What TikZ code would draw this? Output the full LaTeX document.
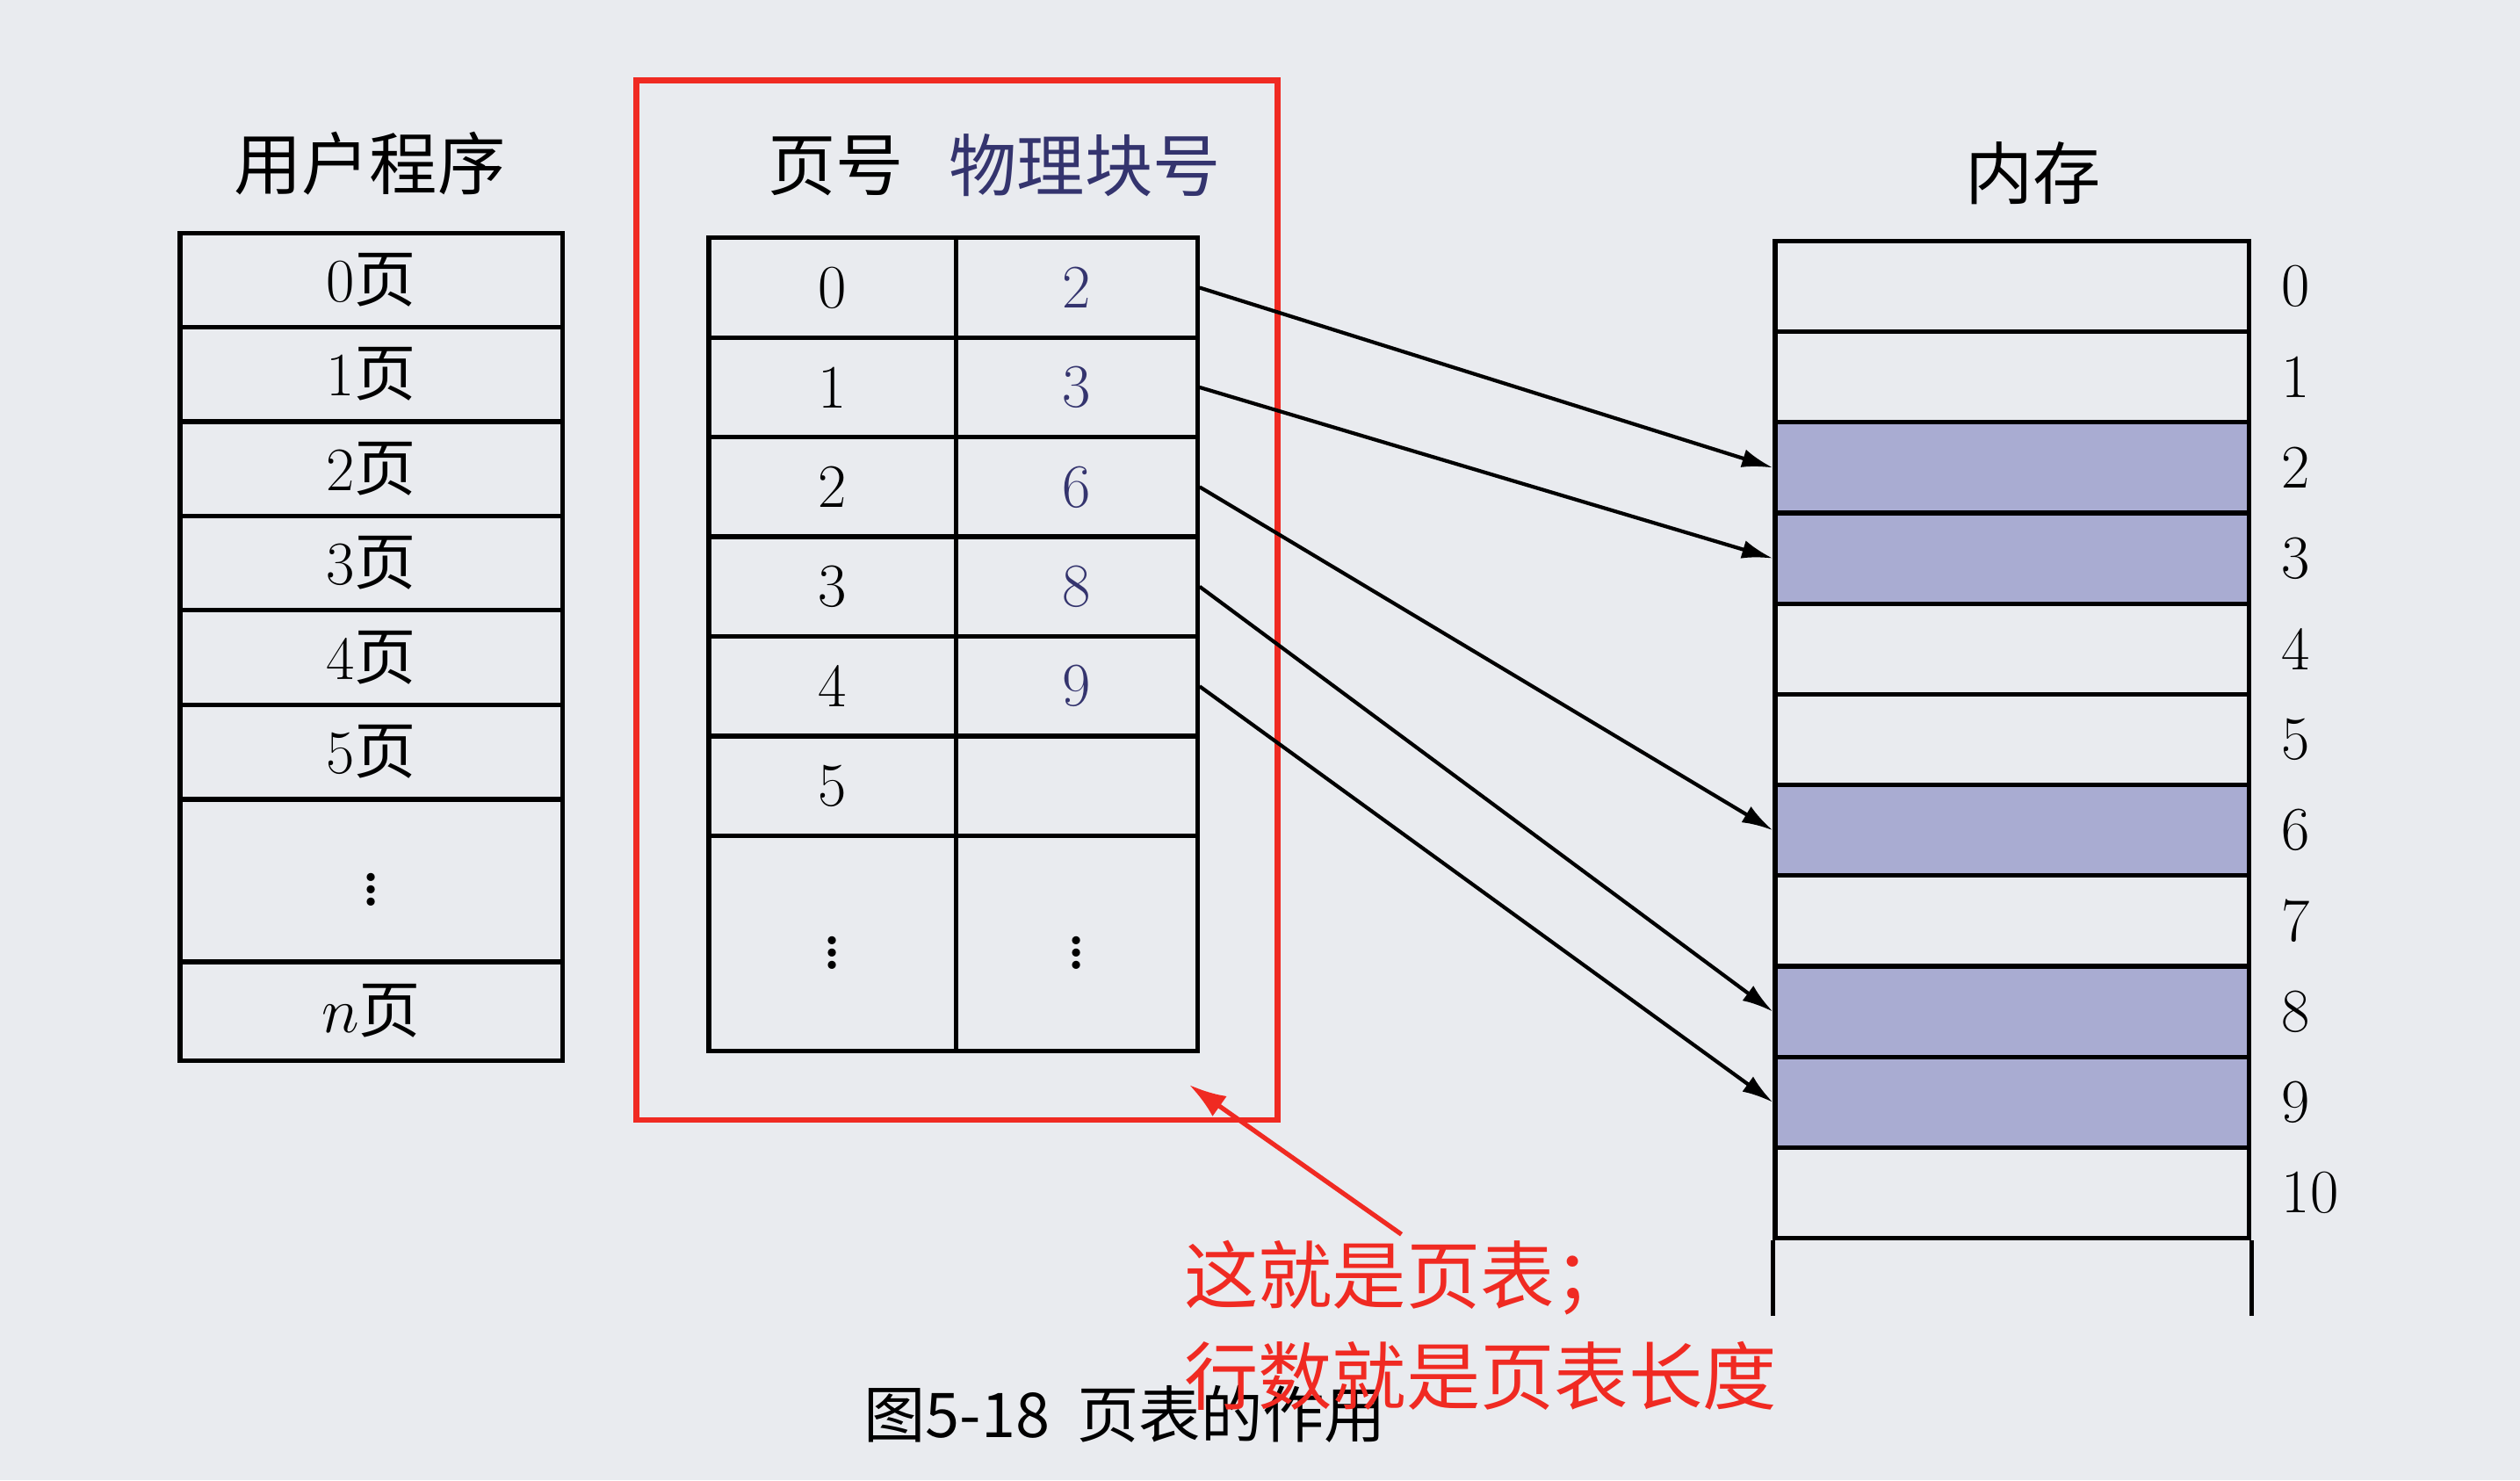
\documentclass[tikz,border=0pt]{standalone}
\usepackage{fontspec}
\newfontfamily\cjk{Noto Sans CJK SC}
\usetikzlibrary{positioning,arrows.meta}
\definecolor{paper}{HTML}{E9EBEF}
\definecolor{blk}{HTML}{A9ACD2}
\definecolor{ink}{HTML}{34346E}
\definecolor{redmark}{HTML}{F02A22}
\newcommand{\bigdots}{\fontsize{32}{32}\selectfont$\vdots$}
\begin{document}
\begin{tikzpicture}
[x=0.0183cm,y=-0.0183cm,
cell/.style={draw, line width=1.5pt, inner sep=0, minimum width={#1*0.0183cm}, font=\fontsize{20}{24}\selectfont},
memcell/.style={draw, line width=1.5pt, inner sep=0, minimum width={295*0.0183cm}, minimum height={56.4*0.0183cm}},
head/.style={font=\cjk\fontsize{22}{26}\selectfont},
note/.style={font=\cjk\fontsize{24}{28}\selectfont, text=redmark, anchor=west},
]
\fill[paper] (0,0) rectangle (1568,921);
%user program
\node[head](uph) at (230,102) {用户程序};
\foreach \t [count=\i from 0] in {0,1,2,3,4,5}
  \node[cell=238, minimum height={58.7*0.0183cm}](u\i) at (231,{174.3+58.7*\i}) {\t{\cjk 页}};
\node[cell=238, minimum height={101*0.0183cm}](u6) at (231,548) {\bigdots};
\node[cell=238, minimum height={62*0.0183cm}](u7) at (231,629) {$n${\cjk 页}};
%page table
\draw[redmark, line width=1.8pt] (396,50) rectangle (795,697);
\node[head](pth) at (520,103) {页号};
\node[head, text=ink](blh) at (675,103) {物理块号};
\foreach \p/\b [count=\i from 0] in {0/2,1/3,2/6,3/8,4/9,5/{}} {
  \node[cell=154, minimum height={62*0.0183cm}](p\i) at (518,{179+62*\i}) {\p};
  \node[cell=150, minimum height={62*0.0183cm}, text=ink](b\i) at (670,{179+62*\i}) {\b};
}
\node[cell=154, minimum height={134*0.0183cm}](p6) at (518,587) {\bigdots};
\node[cell=150, minimum height={134*0.0183cm}](b6) at (670,587) {\bigdots};
%memory
\node[head](memh) at (1265,108) {内存};
\foreach \i in {0,...,10} {
  \node[memcell](m\i) at (1252,{178.2+56.4*\i}) {};
  \node[font=\fontsize{20}{24}\selectfont, right=12*0.0183cm of m\i](ml\i) {\i};
}
\foreach \i in {2,3,6,8,9}
  \node[memcell, fill=blk] at (m\i) {};
\draw[line width=1.5pt] (m10.south west) -- ++(0,47);
\draw[line width=1.5pt] (m10.south east) -- ++(0,47);
%mapping
\foreach \i/\j in {0/2,1/3,2/6,3/8,4/9}
  \draw[line width=1.2pt, -{Latex[length=10pt,width=6pt]}] (b\i.east) -- (m\j.west);
%note
\node[font=\cjk\fontsize{20}{24}\selectfont](cap) at (700,880) {图5-18\ \ 页表的作用};
\coordinate (tip) at (740,675);
\coordinate (tail) at (872,768);
\node[note](n1) at (730,795) {这就是页表；};
\node[note](n2) at (730,856) {行数就是页表长度};
\draw[redmark, line width=1.5pt, -{Latex[length=12pt,width=8pt]}] (tail) -- (tip);
\end{tikzpicture}
\end{document}
